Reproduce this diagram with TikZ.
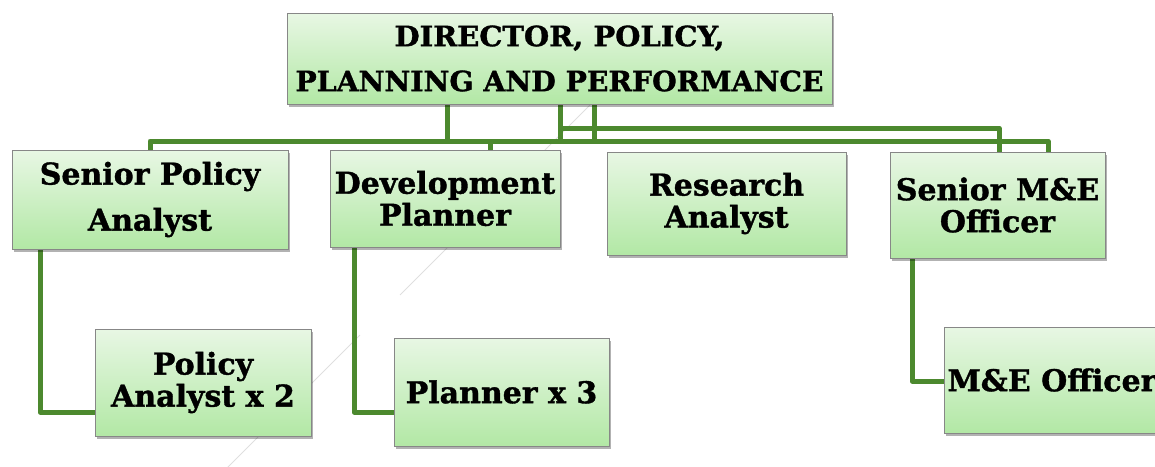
\documentclass[tikz,border=0pt]{standalone}
\usepackage{fontspec}
\setmainfont{DejaVu Serif}[BoldFeatures={FakeBold=1.2}]
\usepackage{graphicx}
\usetikzlibrary{shadows}

\definecolor{linkgreen}{RGB}{76,137,46}
\definecolor{boxtop}{RGB}{232,247,228}
\definecolor{boxbot}{RGB}{178,232,165}
\definecolor{boxedge}{RGB}{135,135,135}

\pgfdeclarelayer{background}
\pgfsetlayers{background,main}

\tikzset{
  orgbox/.style={draw=boxedge, line width=1pt, top color=boxtop, bottom color=boxbot,
    drop shadow={shadow xshift=1.5pt, shadow yshift=-3pt, fill=black, opacity=0.3},
    inner sep=0pt, align=center, font=\bfseries\fontsize{30}{32}\selectfont},
  link/.style={draw=linkgreen, line width=5pt, line join=round},
  deco/.style={draw=gray!25, line width=1pt}
}

% stretch a line of text to a given width, keeping its height
\newcommand{\fitline}[2]{\resizebox{#1}{\height}{#2}}

\begin{document}
\begin{tikzpicture}[x=1pt, y=-1pt]
  \useasboundingbox (0,0) rectangle (1155,466);
  \clip (0,0) rectangle (1155,466);

  % director
  \node[orgbox, minimum width=545pt, minimum height=91pt,
        font=\bfseries\fontsize{28}{45}\selectfont] (dir) at (559.5,58.5)
        {\fitline{330pt}{DIRECTOR, POLICY,}\\\fitline{528pt}{PLANNING AND PERFORMANCE}};

  % second row
  \node[orgbox, minimum width=276pt, minimum height=99pt,
        font=\bfseries\fontsize{30}{46}\selectfont] (spa) at (150,199.5) {Senior Policy\\Analyst};
  \node[orgbox, minimum width=230pt, minimum height=97pt] (dp) at (445,198.5) {Development\\Planner};
  \node[orgbox, minimum width=239pt, minimum height=103pt] (ra) at (726.5,203.5) {Research\\Analyst};
  \node[orgbox, minimum width=215pt, minimum height=106pt] (sme) at (997.5,205) {Senior M\&E\\Officer};

  % third row
  \node[orgbox, minimum width=216pt, minimum height=107pt] (pa) at (203,382.5) {Policy\\Analyst x 2};
  \node[orgbox, minimum width=215pt, minimum height=108pt] (pl) at (501.5,392) {Planner x 3};
  \node[orgbox, minimum width=216pt, minimum height=106pt] (me) at (1052,380) {M\&E Officer};

  \begin{pgfonlayer}{background}
    % faint diagonal stroke behind the chart
    \draw[deco] (600,95) -- (400,295);
    \draw[deco] (360,335) -- (222,473);

    % drops from the director box
    \draw[link] (dir.south -| 447,0) -- (447,141);
    \draw[link] (dir.south -| 560,0) -- (560,141);
    \draw[link] (dir.south -| 594,0) -- (594,141);

    % main bus
    \draw[link] (spa.north -| 150,0) |- (1048,141) -- (sme.north -| 1048,0);
    \draw[link] (490,141) -- (dp.north -| 490,0);
    % upper bus
    \draw[link] (560,128) -- (999,128) -- (sme.north -| 999,0);

    % links to the third row
    \draw[link] (spa.south -| 40,0) |- (pa.west |- 0,412);
    \draw[link] (dp.south -| 354,0) |- (pl.west |- 0,412);
    \draw[link] (sme.south -| 912,0) |- (me.west |- 0,381);
  \end{pgfonlayer}
\end{tikzpicture}
\end{document}
